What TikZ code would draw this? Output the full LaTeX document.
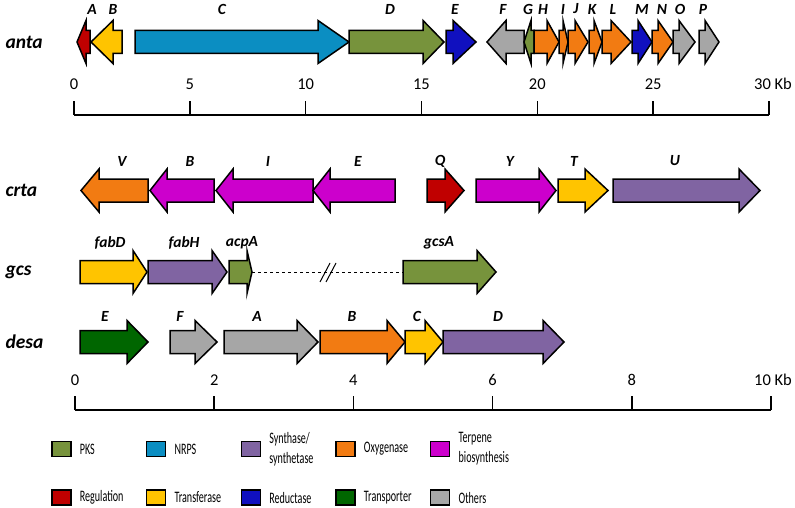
\documentclass[tikz,border=0pt]{standalone}
\usepackage{fontspec}
\setmainfont{Carlito}
\newfontfamily\legfont[FakeStretch=0.63]{Carlito}
\usepackage{tikz}
\usetikzlibrary{positioning}
\definecolor{pks}{HTML}{77933C}
\definecolor{nrps}{HTML}{0B8EC2}
\definecolor{synth}{HTML}{8064A2}
\definecolor{oxy}{HTML}{F27B12}
\definecolor{terp}{HTML}{CC00CC}
\definecolor{reg}{HTML}{C00000}
\definecolor{trans}{HTML}{FFC400}
\definecolor{reduct}{HTML}{1010BF}
\definecolor{transp}{HTML}{006600}
\definecolor{other}{HTML}{A6A6A6}
\tikzstyle{gene} = [draw=black,line width=1.5pt]
\tikzstyle{glabel} = [font=\fontsize{15.5}{15.5}\selectfont\bfseries\itshape]
\tikzstyle{cluster} = [font=\fontsize{19.5}{19.5}\selectfont\bfseries\itshape,anchor=west]
\tikzstyle{tick} = [font=\fontsize{16.5}{16.5}\selectfont]
\tikzstyle{axis} = [draw,line width=1.5pt]
\tikzstyle{swatch} = [draw,line width=1.3pt,minimum width=19pt,minimum height=15pt,inner sep=0pt]
\tikzstyle{legtext} = [font=\legfont\fontsize{16}{20}\selectfont,align=left,inner sep=0pt]

\begin{document}
\begin{tikzpicture}[x=1pt, y=-1pt]
    \useasboundingbox (0,0) rectangle (795,508);

    % cluster names
    \node[cluster] (anta) at (2,42) {anta};
    \node[cluster] (crta) at (2,190.5) {crta};
    \node[cluster] (gcs) at (2,272) {gcs};
    \node[cluster] (desa) at (2,342) {desa};

    % anta cluster
    \def\cy{42}
    \foreach \s/\b/\t/\col/\name/\lx in {90/86/77/reg/A/92, 122/113/91/trans/B/113,
    135/318/349/nrps/C/222, 349/423/444/pks/D/390, 446/453/476/reduct/E/455,
    524/506/487/other/F/503, 534/531/524/pks/G/528, 534/547/559/oxy/H/543,
    559/563/568/oxy/I/563, 568/575/588/oxy/J/576, 589/594/602/oxy/K/592,
    602/611/631/oxy/L/613, 632/638/652/reduct/M/642, 652/658/673/oxy/N/662,
    673/679/695/other/O/680, 699/705/719/other/P/703}
    {
        \path[gene,fill=\col] (\s,\cy-11.5) -- (\b,\cy-11.5) -- (\b,\cy-21.5) -- (\t,\cy)
            -- (\b,\cy+21.5) -- (\b,\cy+11.5) -- (\s,\cy+11.5) -- cycle;
        \node[glabel] (a\name) at (\lx,9) {\name};
    }

    % crta cluster
    \def\cy{190.5}
    \foreach \s/\b/\t/\col/\name/\lx in {148/99/81/oxy/V/122, 214/167/150/terp/B/190,
    313/233/216/terp/I/268, 395/330/313/terp/E/358, 427/445/464/reg/Q/440,
    476/539/556/terp/Y/510, 558/585/608/trans/T/574, 613/739/760/synth/U/675}
    {
        \path[gene,fill=\col] (\s,\cy-11.5) -- (\b,\cy-11.5) -- (\b,\cy-21.5) -- (\t,\cy)
            -- (\b,\cy+21.5) -- (\b,\cy+11.5) -- (\s,\cy+11.5) -- cycle;
        \node[glabel] (c\name) at (\lx,161) {\name};
    }

    % gcs cluster
    \def\cy{272}
    \foreach \s/\b/\t/\col/\name/\lx in {80/133/147/trans/fabD/110, 148/212/227/synth/fabH/184,
    229/247/252/pks/acpA/242, 403/477/496/pks/gcsA/439}
    {
        \path[gene,fill=\col] (\s,\cy-11.5) -- (\b,\cy-11.5) -- (\b,\cy-21.5) -- (\t,\cy)
            -- (\b,\cy+21.5) -- (\b,\cy+11.5) -- (\s,\cy+11.5) -- cycle;
        \coordinate (g\name-s) at (\s,\cy);
        \coordinate (g\name-t) at (\t,\cy);
        \node[glabel] (g\name) at (\lx,243) {\name};
    }
    \draw[dashed,line width=1pt] (gacpA-t) -- coordinate[pos=0.51] (gap) (ggcsA-s);
    \draw[line width=1pt] ([xshift=-9pt,yshift=-10pt]gap) -- ([xshift=1pt,yshift=9pt]gap);
    \draw[line width=1pt] ([xshift=-3pt,yshift=-10pt]gap) -- ([xshift=7pt,yshift=9pt]gap);

    % desa cluster
    \def\cy{342}
    \foreach \s/\b/\t/\col/\name/\lx in {80/127/148/transp/E/105, 170/195/217/other/F/180,
    224/297/318/other/A/257, 320/387/405/oxy/B/352, 405/425/443/trans/C/417,
    443/543/564/synth/D/498}
    {
        \path[gene,fill=\col] (\s,\cy-11.5) -- (\b,\cy-11.5) -- (\b,\cy-21.5) -- (\t,\cy)
            -- (\b,\cy+21.5) -- (\b,\cy+11.5) -- (\s,\cy+11.5) -- cycle;
        \node[glabel] (d\name) at (\lx,316) {\name};
    }

    % scale bars
    \path[axis] (74,115) -- (769,115);
    \foreach \i in {0,...,6}
        \path[axis] (74+\i*115.83,115) -- (74+\i*115.83,101);
    \foreach \i/\lab in {0/0,1/5,2/10,3/15,4/20,5/25}
        \node[tick] (ta\i) at (74+\i*115.83,84) {\lab};
    \node[tick,anchor=west,inner sep=0pt] (ta6) at (754,84) {30 Kb};

    \path[axis] (75,410) -- (771,410);
    \foreach \i in {0,...,5}
        \path[axis] (75+\i*139.2,410) -- (75+\i*139.2,396);
    \foreach \i/\lab in {0/0,1/2,2/4,3/6,4/8}
        \node[tick] (td\i) at (75+\i*139.2,380) {\lab};
    \node[tick,anchor=west,inner sep=0pt] (td5) at (754,380) {10 Kb};

    % legend
    \foreach \i/\col/\txt in {0/pks/PKS, 1/nrps/NRPS, 2/synth/{Synthase/\\synthetase},
    3/oxy/Oxygenase, 4/terp/{Terpene\\biosynthesis}}
    {
        \node[swatch,fill=\col] (sw\col) at (61.5+\i*94.7,449) {};
        \node[legtext,right=8pt of sw\col] (lt\col) {\txt};
    }
    \foreach \i/\col/\txt in {0/reg/Regulation, 1/trans/Transferase, 2/reduct/Reductase,
    3/transp/Transporter, 4/other/Others}
    {
        \node[swatch,fill=\col] (sw\col) at (61.5+\i*94.7,497.5) {};
        \node[legtext,right=8pt of sw\col] (lt\col) {\txt};
    }
\end{tikzpicture}
\end{document}
